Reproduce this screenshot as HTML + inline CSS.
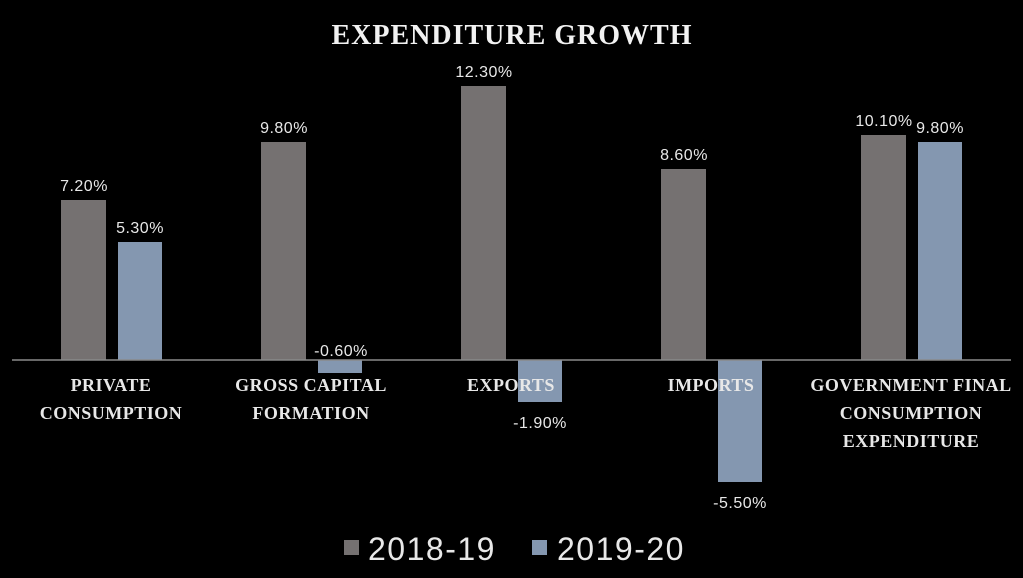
<!DOCTYPE html>
<html><head><style>html,body{margin:0;padding:0;background:#000;}svg{display:block}</style></head>
<body>
<svg width="1023" height="578" xmlns="http://www.w3.org/2000/svg" font-family="Liberation Serif, serif" fill="#e8e8e8">
<rect width="1023" height="578" fill="#000"/>
<text x="512" y="44" text-anchor="middle" font-size="28" font-weight="bold" fill="#f2f2f2" letter-spacing="1">EXPENDITURE GROWTH</text>
<g fill="#757171">
<rect x="61" y="200" width="45" height="160"/>
<rect x="261" y="142" width="45" height="218"/>
<rect x="461" y="86" width="45" height="274"/>
<rect x="661" y="169" width="45" height="191"/>
<rect x="861" y="135" width="45" height="225"/>
</g>
<g fill="#8497b0">
<rect x="118" y="242" width="44" height="118"/>
<rect x="318" y="360" width="44" height="13"/>
<rect x="518" y="360" width="44" height="42"/>
<rect x="718" y="360" width="44" height="122"/>
<rect x="918" y="142" width="44" height="218"/>
</g>
<line x1="12" y1="360" x2="1011" y2="360" stroke="#8a8a8a" stroke-width="1.5"/>
<g font-family="Liberation Sans, sans-serif" font-size="16" text-anchor="middle" fill="#e8e8e8" letter-spacing="0.5">
<text x="84" y="191">7.20%</text>
<text x="140" y="233">5.30%</text>
<text x="284" y="133">9.80%</text>
<text x="341" y="356">-0.60%</text>
<text x="484" y="77">12.30%</text>
<text x="540" y="428">-1.90%</text>
<text x="684" y="160">8.60%</text>
<text x="740" y="508">-5.50%</text>
<text x="884" y="126">10.10%</text>
<text x="940" y="133">9.80%</text>
</g>
<g font-size="18" font-weight="bold" text-anchor="middle" fill="#e8e8e8" letter-spacing="0.5">
<text x="111" y="391">PRIVATE</text>
<text x="111" y="419">CONSUMPTION</text>
<text x="311" y="391">GROSS CAPITAL</text>
<text x="311" y="419">FORMATION</text>
<text x="511" y="391">EXPORTS</text>
<text x="711" y="391">IMPORTS</text>
<text x="911" y="391">GOVERNMENT FINAL</text>
<text x="911" y="419">CONSUMPTION</text>
<text x="911" y="447">EXPENDITURE</text>
</g>
<rect x="344" y="540" width="15" height="15" fill="#757171"/>
<text x="368" y="560" font-family="Liberation Sans, sans-serif" font-size="32" letter-spacing="1.5">2018-19</text>
<rect x="532" y="540" width="15" height="15" fill="#8497b0"/>
<text x="557" y="560" font-family="Liberation Sans, sans-serif" font-size="32" letter-spacing="1.5">2019-20</text>
</svg>
</body></html>
